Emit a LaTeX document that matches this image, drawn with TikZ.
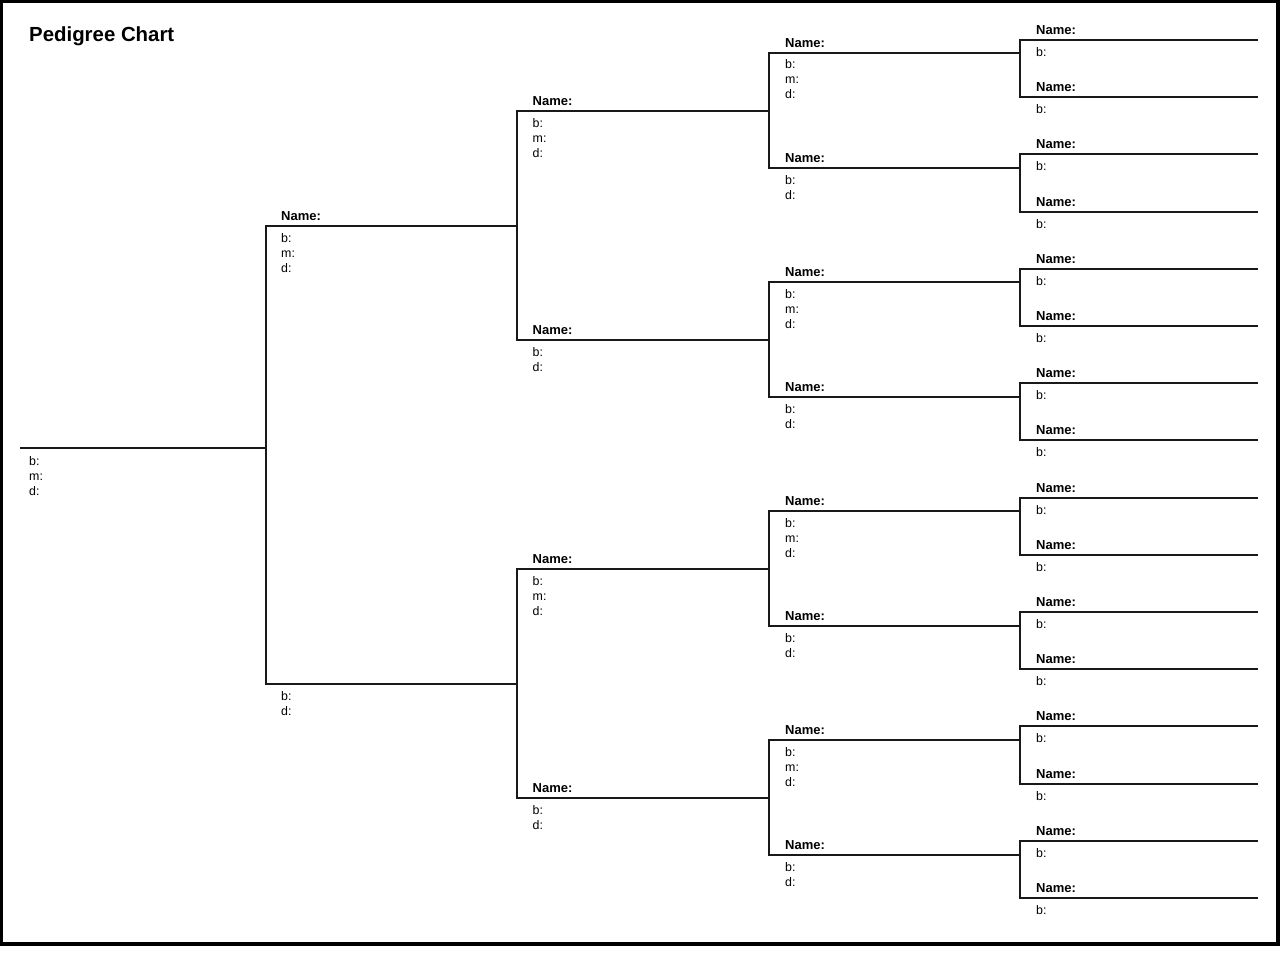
\documentclass[tikz,border=0pt]{standalone}
\usepackage{fontspec}
\setmainfont{Liberation Sans}
\begin{document}
\begin{tikzpicture}[x=1pt,y=-1pt,
  tree/.style={line width=2pt, line cap=rect, draw=black!90},
  frame/.style={line width=3.8pt, draw=black},
  namelbl/.style={anchor=base west, inner sep=0pt, font=\fontsize{13}{15}\selectfont\bfseries},
  infolbl/.style={anchor=base west, inner sep=0pt, font=\fontsize{12.4}{15}\selectfont},
  titlelbl/.style={anchor=base west, inner sep=0pt, font=\fontsize{20.4}{24}\selectfont\bfseries}]
\useasboundingbox (0,0) rectangle (1280,974);
\fill[white] (0,0) rectangle (1280,974);
\draw[frame] (1.5,1.5) rectangle (1278,944);
\node[titlelbl] (title) at (29,41.3) {Pedigree Chart};

% generation 4
\foreach \i in {0,...,15} {
  \pgfmathsetmacro\yy{round(40+57.2*\i)}
  \coordinate (g4s\i) at (1020,\yy);
  \coordinate (g4e\i) at (1257,\yy);
  \draw[tree] (g4s\i) -- (g4e\i);
  \node[namelbl] (g4n\i) at (1036,\yy-5.5) {Name:};
  \node[infolbl] (g4b\i) at (1036,\yy+16.5) {b:};
}
% generation 3
\foreach \i in {0,...,7} {
  \pgfmathsetmacro\yy{round(53+114.57*\i)}
  \pgfmathtruncatemacro\a{2*\i}
  \pgfmathtruncatemacro\b{2*\i+1}
  \pgfmathtruncatemacro\odd{mod(\i,2)}
  \coordinate (g3s\i) at (769,\yy);
  \draw[tree] (g4s\a) -- (g4s\b);
  \draw[tree] (g3s\i) -- (g3s\i -| g4s\a);
  \node[namelbl] (g3n\i) at (785,\yy-5.5) {Name:};
  \node[infolbl] (g3b\i) at (785,\yy+16) {b:};
  \ifnum\odd=0
    \node[infolbl] (g3m\i) at (785,\yy+31) {m:};
    \node[infolbl] (g3d\i) at (785,\yy+46) {d:};
  \else
    \node[infolbl] (g3d\i) at (785,\yy+31) {d:};
  \fi
}
% generation 2
\foreach \i in {0,...,3} {
  \pgfmathsetmacro\yy{111+229*\i}
  \pgfmathtruncatemacro\a{2*\i}
  \pgfmathtruncatemacro\b{2*\i+1}
  \pgfmathtruncatemacro\odd{mod(\i,2)}
  \coordinate (g2s\i) at (517,\yy);
  \draw[tree] (g3s\a) -- (g3s\b);
  \draw[tree] (g2s\i) -- (g2s\i -| g3s\a);
  \node[namelbl] (g2n\i) at (532.5,\yy-5.5) {Name:};
  \node[infolbl] (g2b\i) at (532.5,\yy+16) {b:};
  \ifnum\odd=0
    \node[infolbl] (g2m\i) at (532.5,\yy+31) {m:};
    \node[infolbl] (g2d\i) at (532.5,\yy+46) {d:};
  \else
    \node[infolbl] (g2d\i) at (532.5,\yy+31) {d:};
  \fi
}
% generation 1
\coordinate (g1s0) at (266,226);
\coordinate (g1s1) at (266,684);
\draw[tree] (g2s0) -- (g2s1);
\draw[tree] (g2s2) -- (g2s3);
\draw[tree] (g1s0) -- (g1s0 -| g2s0);
\draw[tree] (g1s1) -- (g1s1 -| g2s2);
\node[namelbl] (g1n0) at (281,220.5) {Name:};
\node[infolbl] (g1b0) at (281,242) {b:};
\node[infolbl] (g1m0) at (281,257) {m:};
\node[infolbl] (g1d0) at (281,272) {d:};
\node[infolbl] (g1b1) at (281,700) {b:};
\node[infolbl] (g1d1) at (281,715) {d:};
% root
\coordinate (g0s) at (21,448);
\draw[tree] (g1s0) -- (g1s1);
\draw[tree] (g0s) -- (g0s -| g1s0);
\node[infolbl] (g0b) at (29,465) {b:};
\node[infolbl] (g0m) at (29,480) {m:};
\node[infolbl] (g0d) at (29,495) {d:};
\end{tikzpicture}
\end{document}
